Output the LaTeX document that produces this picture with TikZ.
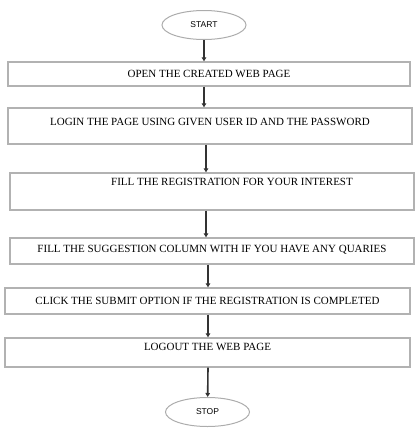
\documentclass[tikz,border=0pt]{standalone}
\usepackage{fontspec}
\setmainfont{Liberation Serif}
\setsansfont{Liberation Sans}
\usetikzlibrary{arrows.meta,positioning,shapes.geometric}

\begin{document}
\begin{tikzpicture}[
        % pixel-like units, y pointing down
            x=1pt, y=-1pt,
        % Estilo para terminais (inicio e fim)
            terminal/.style={ellipse, draw=gray!65, line width=1pt, minimum width=84pt, minimum height=29pt, inner sep=0pt, font=\sffamily\fontsize{8.5}{9}\selectfont},
        % Estilo uniforme para os passos
            stepbox/.style={rectangle, draw=gray!60, line width=1.3pt, minimum width=404pt, inner sep=0pt, font=\fontsize{11}{12}\selectfont},
            arrow/.style={-{Triangle[length=4pt,width=4.5pt]}, line width=1.6pt, draw=gray!40!black}
        ]
            \useasboundingbox (0,0) rectangle (418,432);

            % --- TERMINAIS ---
            \node[terminal] (start) at (204,25) {START};
            \node[terminal] (stop) at (207.5,412) {STOP};

            % --- PASSOS ---
            \node[stepbox, minimum width=402pt, minimum height=24pt] (open) at (209,74) {OPEN THE CREATED WEB PAGE};
            \node[stepbox, minimum height=36pt, text height=7pt, text depth=9pt] (login) at (210,126) {LOGIN THE PAGE USING GIVEN USER ID AND THE PASSWORD};
            \node[stepbox, minimum height=37pt, text height=7pt, text depth=19pt] (fill) at (212,191.5) {\hspace*{40pt}FILL THE REGISTRATION FOR YOUR INTEREST};
            \node[stepbox, minimum height=26pt, text height=7pt, text depth=5pt] (suggest) at (212,251) {FILL THE SUGGESTION COLUMN WITH IF YOU HAVE ANY QUARIES};
            \node[stepbox, minimum width=405pt, minimum height=26pt] (submit) at (207.5,301) {CLICK THE SUBMIT OPTION IF THE REGISTRATION IS COMPLETED};
            \node[stepbox, minimum width=405pt, minimum height=29pt, text height=7pt, text depth=12pt] (logout) at (207.5,352.5) {LOGOUT THE WEB PAGE};

            % --- LIGACOES ---
            \draw[arrow] (start) -- (start |- open.north);
            \draw[arrow] (open.south -| start) -- (login.north -| start);
            \draw[arrow] ([xshift=-4pt]login.south) -- ([xshift=-4pt]login.south |- fill.north);
            \draw[arrow] ([xshift=-6pt]suggest.north |- fill.south) -- ([xshift=-6pt]suggest.north);
            \draw[arrow] ([xshift=-4pt]suggest.south) -- ([xshift=-4pt]suggest.south |- submit.north);
            \draw[arrow] ([xshift=0.5pt]submit.south) -- ([xshift=0.5pt]logout.north);
            \draw[arrow] ([xshift=0.5pt]logout.south) -- (stop);
        \end{tikzpicture}
\end{document}
